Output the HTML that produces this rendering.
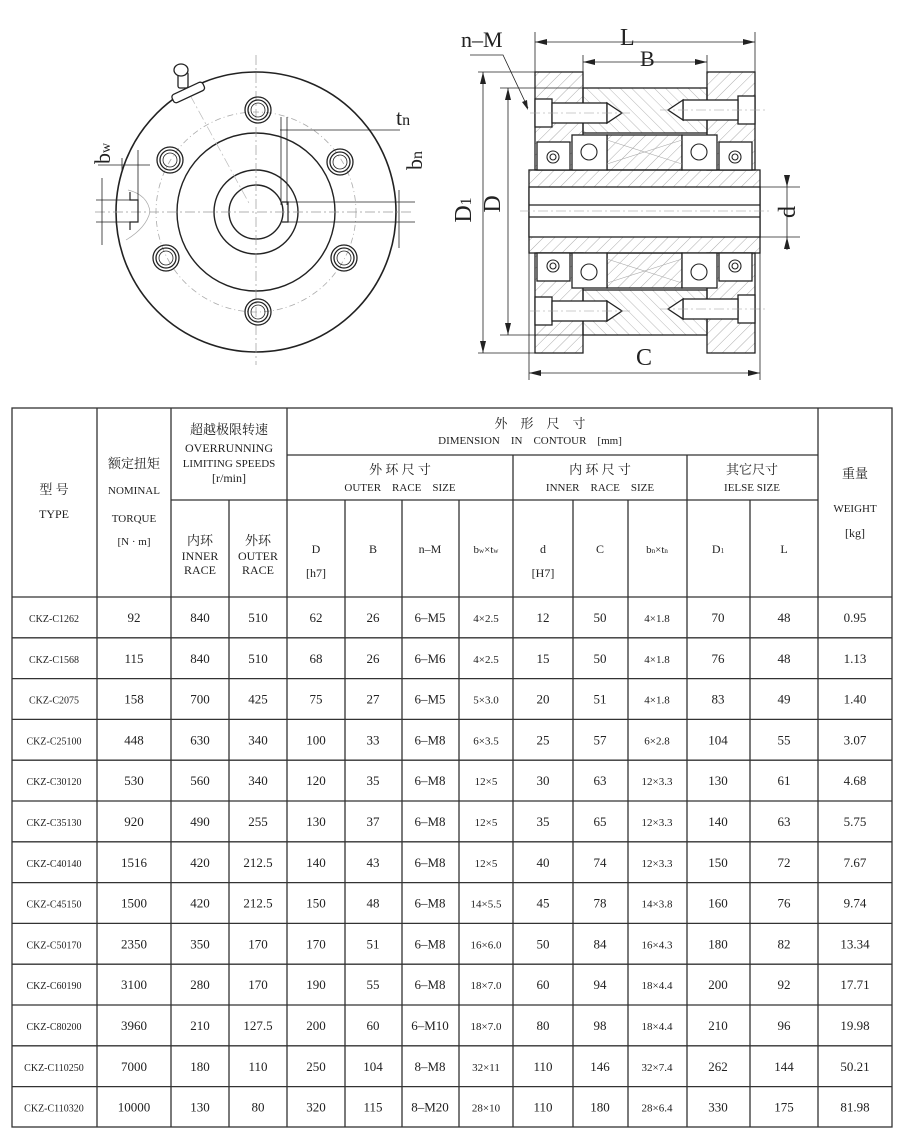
<!DOCTYPE html>
<html><head><meta charset="utf-8"><style>
html,body{margin:0;padding:0;background:#fff;}
svg{display:block;}
text{font-family:"Liberation Serif","Noto Serif CJK SC",serif;fill:#222;}
.c{text-anchor:middle;}
.cj{font-family:"Liberation Serif","Noto Serif CJK SC","Noto Sans CJK SC",serif;}
</style></head><body>
<svg width="900" height="1140" viewBox="0 0 900 1140" xmlns="http://www.w3.org/2000/svg">
<defs>
<pattern id="h" width="8" height="8" patternUnits="userSpaceOnUse" patternTransform="rotate(45)">
<line x1="0" y1="0" x2="0" y2="8" stroke="#888" stroke-width="0.7"/></pattern>
<pattern id="h2" width="8" height="8" patternUnits="userSpaceOnUse" patternTransform="rotate(-45)">
<line x1="0" y1="0" x2="0" y2="8" stroke="#999" stroke-width="0.7"/></pattern>
</defs>

<!-- LEFT VIEW -->
<g stroke="#222" fill="none">
<circle cx="256" cy="212" r="140" stroke-width="1.6"/>
<circle cx="256" cy="212" r="100" stroke="#aaa" stroke-dasharray="6,3,1,3" stroke-width="0.8"/>
<circle cx="256" cy="212" r="79" stroke-width="1.4"/>
<circle cx="256" cy="212" r="42" stroke-width="1.4"/>
<circle cx="256" cy="212" r="27" stroke-width="1.4"/>
<line x1="256" y1="55" x2="256" y2="365" stroke="#999" stroke-width="0.7" stroke-dasharray="10,3,2,3"/>
<line x1="95" y1="212" x2="412" y2="212" stroke="#999" stroke-width="0.7" stroke-dasharray="10,3,2,3"/>
<line x1="190" y1="95" x2="250" y2="205" stroke="#bbb" stroke-width="0.7" stroke-dasharray="10,3,2,3"/>
<g stroke-width="1.3">
<circle cx="258" cy="110" r="13"/><circle cx="258" cy="110" r="10"/><circle cx="258" cy="110" r="7" stroke-width="0.8"/>
<circle cx="340" cy="162" r="13"/><circle cx="340" cy="162" r="10"/><circle cx="340" cy="162" r="7" stroke-width="0.8"/>
<circle cx="344" cy="258" r="13"/><circle cx="344" cy="258" r="10"/><circle cx="344" cy="258" r="7" stroke-width="0.8"/>
<circle cx="258" cy="312" r="13"/><circle cx="258" cy="312" r="10"/><circle cx="258" cy="312" r="7" stroke-width="0.8"/>
<circle cx="166" cy="258" r="13"/><circle cx="166" cy="258" r="10"/><circle cx="166" cy="258" r="7" stroke-width="0.8"/>
<circle cx="170" cy="160" r="13"/><circle cx="170" cy="160" r="10"/><circle cx="170" cy="160" r="7" stroke-width="0.8"/>
</g>
<path d="M282 202 H288 V222 H282" stroke-width="1.2"/>
<!-- grease nipple -->
<g stroke-width="1.3" fill="#fff">
<rect x="171" y="88" width="34" height="9" rx="3" transform="rotate(-25 188 92)"/>
<rect x="178" y="72" width="10" height="16" rx="2"/>
<ellipse cx="181" cy="70" rx="7" ry="6"/>
</g>
<path d="M130 192 V200 H138 V222 H130 V230" stroke-width="1.2"/>
<path d="M128 190 Q148 195 150 212 Q146 228 126 240" stroke="#aaa" stroke-width="0.7"/>
<g stroke-width="0.8">
<line x1="96" y1="200" x2="135" y2="200"/><line x1="96" y1="222" x2="135" y2="222"/>
<line x1="102" y1="178" x2="102" y2="245"/>
<line x1="98" y1="165" x2="150" y2="165"/>
<line x1="122" y1="158" x2="122" y2="170"/><line x1="138" y1="150" x2="138" y2="200"/>
<line x1="280" y1="130" x2="400" y2="130"/>
<line x1="281" y1="117" x2="281" y2="205"/><line x1="287" y1="117" x2="287" y2="205"/>
<line x1="288" y1="202" x2="415" y2="202"/><line x1="288" y1="222" x2="415" y2="222"/>
<line x1="399" y1="190" x2="399" y2="248"/>
</g>
</g>
<text x="88" y="158" font-size="22" transform="rotate(-90 102 150)">b<tspan font-size="14">w</tspan></text>
<text x="396" y="125" font-size="22">t<tspan font-size="16">n</tspan></text>
<text x="400" y="172" font-size="22" transform="rotate(-90 410 160)">b<tspan font-size="16">n</tspan></text>

<!-- RIGHT SECTION VIEW -->
<g stroke="#222" stroke-width="1.3">
<rect x="535" y="72" width="48" height="98" fill="url(#h)"/>
<rect x="707" y="72" width="48" height="98" fill="url(#h)"/>
<rect x="535" y="253" width="48" height="100" fill="url(#h)"/>
<rect x="707" y="253" width="48" height="100" fill="url(#h)"/>
<rect x="583" y="88" width="124" height="45" fill="url(#h2)"/>
<rect x="583" y="290" width="124" height="45" fill="url(#h2)"/>
<rect x="607" y="135" width="75" height="35" fill="url(#h)"/>
<rect x="607" y="253" width="75" height="35" fill="url(#h)"/>
<rect x="529" y="170" width="231" height="83" fill="url(#h)"/>
<rect x="529" y="187" width="231" height="50" fill="#fff"/>
<line x1="529" y1="205" x2="760" y2="205"/><line x1="529" y1="217" x2="760" y2="217"/>
<g fill="#fff">
<rect x="572" y="135" width="35" height="35"/><rect x="682" y="135" width="35" height="35"/>
<rect x="572" y="253" width="35" height="35"/><rect x="682" y="253" width="35" height="35"/>
<rect x="537" y="142" width="33" height="28"/><rect x="719" y="142" width="33" height="28"/>
<rect x="537" y="253" width="33" height="28"/><rect x="719" y="253" width="33" height="28"/>
</g>
<g fill="none" stroke-width="1.1">
<circle cx="589" cy="152" r="8"/><circle cx="699" cy="152" r="8"/>
<circle cx="589" cy="272" r="8"/><circle cx="699" cy="272" r="8"/>
<circle cx="553" cy="157" r="6"/><circle cx="553" cy="157" r="3"/>
<circle cx="735" cy="157" r="6"/><circle cx="735" cy="157" r="3"/>
<circle cx="553" cy="266" r="6"/><circle cx="553" cy="266" r="3"/>
<circle cx="735" cy="266" r="6"/><circle cx="735" cy="266" r="3"/>
<line x1="607" y1="140" x2="682" y2="164" stroke="#aaa" stroke-width="0.6"/>
<line x1="607" y1="164" x2="682" y2="140" stroke="#aaa" stroke-width="0.6"/>
<line x1="607" y1="259" x2="682" y2="283" stroke="#aaa" stroke-width="0.6"/>
<line x1="607" y1="283" x2="682" y2="259" stroke="#aaa" stroke-width="0.6"/>
</g>
<g fill="#fff">
<rect x="535" y="99" width="17" height="28"/><rect x="552" y="103" width="55" height="20"/>
<path d="M607 103 L622 113 L607 123 Z"/>
<rect x="738" y="96" width="17" height="28"/><rect x="683" y="100" width="55" height="20"/>
<path d="M683 100 L668 110 L683 120 Z"/>
<rect x="535" y="297" width="17" height="28"/><rect x="552" y="301" width="55" height="20"/>
<path d="M607 301 L622 311 L607 321 Z"/>
<rect x="738" y="295" width="17" height="28"/><rect x="683" y="299" width="55" height="20"/>
<path d="M683 299 L668 309 L683 319 Z"/>
</g>
</g>
<g stroke="#999" stroke-width="0.6" stroke-dasharray="10,3,2,3">
<line x1="520" y1="211" x2="770" y2="211"/>
<line x1="530" y1="113" x2="630" y2="113"/><line x1="660" y1="110" x2="765" y2="110"/>
<line x1="530" y1="311" x2="630" y2="311"/><line x1="660" y1="309" x2="765" y2="309"/>
</g>
<g stroke="#222" stroke-width="0.8" fill="none">
<line x1="535" y1="32" x2="535" y2="72"/><line x1="755" y1="32" x2="755" y2="72"/>
<line x1="535" y1="42" x2="755" y2="42"/>
<line x1="583" y1="55" x2="583" y2="88"/><line x1="707" y1="55" x2="707" y2="88"/>
<line x1="583" y1="62" x2="707" y2="62"/>
<line x1="478" y1="72" x2="535" y2="72"/><line x1="478" y1="353" x2="535" y2="353"/>
<line x1="483" y1="72" x2="483" y2="353"/>
<line x1="500" y1="88" x2="583" y2="88"/><line x1="500" y1="335" x2="583" y2="335"/>
<line x1="508" y1="88" x2="508" y2="335"/>
<line x1="760" y1="187" x2="800" y2="187"/><line x1="760" y1="237" x2="800" y2="237"/>
<line x1="787" y1="175" x2="787" y2="250"/>
<line x1="529" y1="253" x2="529" y2="380"/><line x1="760" y1="253" x2="760" y2="380"/>
<line x1="529" y1="373" x2="760" y2="373"/>
<path d="M470 55 L503 55 L528 108"/>
</g>
<g fill="#222">
<path d="M535 42 l12 -3 v6z"/><path d="M755 42 l-12 -3 v6z"/>
<path d="M583 62 l12 -3 v6z"/><path d="M707 62 l-12 -3 v6z"/>
<path d="M483 72 l-3 12 h6z"/><path d="M483 353 l-3 -12 h6z"/>
<path d="M508 88 l-3 12 h6z"/><path d="M508 335 l-3 -12 h6z"/>
<path d="M787 187 l-3 -12 h6z"/><path d="M787 237 l-3 12 h6z"/>
<path d="M529 373 l12 -3 v6z"/><path d="M760 373 l-12 -3 v6z"/>
<path d="M528 110 l-6 -8 l5 -2z"/>
</g>
<text x="461" y="47" font-size="22">n–M</text>
<text x="620" y="45" font-size="24">L</text>
<text x="640" y="66" font-size="22">B</text>
<text x="636" y="365" font-size="24">C</text>
<text x="470" y="215" font-size="24" class="c" transform="rotate(-90 468 212)">D<tspan font-size="16">1</tspan></text>
<text x="508" y="212" font-size="24" class="c" transform="rotate(-90 500 212)">D</text>
<text x="795" y="212" font-size="24" class="c" transform="rotate(-90 795 212)">d</text>

<!-- TABLE -->
<g stroke="#333" stroke-width="1.3" fill="none">
<rect x="12" y="408" width="880" height="719"/>
<line x1="97" y1="408" x2="97" y2="1127"/>
<line x1="171" y1="408" x2="171" y2="1127"/>
<line x1="229" y1="500" x2="229" y2="1127"/>
<line x1="287" y1="408" x2="287" y2="1127"/>
<line x1="345" y1="500" x2="345" y2="1127"/>
<line x1="402" y1="500" x2="402" y2="1127"/>
<line x1="459" y1="500" x2="459" y2="1127"/>
<line x1="513" y1="455" x2="513" y2="1127"/>
<line x1="573" y1="500" x2="573" y2="1127"/>
<line x1="628" y1="500" x2="628" y2="1127"/>
<line x1="687" y1="455" x2="687" y2="1127"/>
<line x1="750" y1="500" x2="750" y2="1127"/>
<line x1="818" y1="408" x2="818" y2="1127"/>
<line x1="287" y1="455" x2="818" y2="455"/>
<line x1="171" y1="500" x2="818" y2="500"/>
<line x1="12" y1="597" x2="892" y2="597"/>
<line x1="12" y1="637.8" x2="892" y2="637.8"/>
<line x1="12" y1="678.6" x2="892" y2="678.6"/>
<line x1="12" y1="719.4" x2="892" y2="719.4"/>
<line x1="12" y1="760.2" x2="892" y2="760.2"/>
<line x1="12" y1="801" x2="892" y2="801"/>
<line x1="12" y1="841.8" x2="892" y2="841.8"/>
<line x1="12" y1="882.6" x2="892" y2="882.6"/>
<line x1="12" y1="923.4" x2="892" y2="923.4"/>
<line x1="12" y1="964.2" x2="892" y2="964.2"/>
<line x1="12" y1="1005" x2="892" y2="1005"/>
<line x1="12" y1="1045.8" x2="892" y2="1045.8"/>
<line x1="12" y1="1086.6" x2="892" y2="1086.6"/>
</g>
<g font-size="12" class="c">
<text x="54" y="494" class="c cj" font-size="13">型 号</text>
<text x="54" y="518" class="c">TYPE</text>
<text x="134" y="468" class="c cj" font-size="13">额定扭矩</text>
<text x="134" y="494" class="c" font-size="11">NOMINAL</text>
<text x="134" y="522" class="c" font-size="11">TORQUE</text>
<text x="134" y="545" class="c" font-size="11">[N · m]</text>
<text x="229" y="434" class="c cj" font-size="13">超越极限转速</text>
<text x="229" y="452" class="c" font-size="12">OVERRUNNING</text>
<text x="229" y="467" class="c" font-size="11">LIMITING SPEEDS</text>
<text x="229" y="482" class="c" font-size="12">[r/min]</text>
<text x="200" y="545" class="c cj" font-size="13">内环</text>
<text x="200" y="560" class="c">INNER</text>
<text x="200" y="574" class="c">RACE</text>
<text x="258" y="545" class="c cj" font-size="13">外环</text>
<text x="258" y="560" class="c">OUTER</text>
<text x="258" y="574" class="c">RACE</text>
<text x="540" y="428" class="c cj" font-size="13" xml:space="preserve">外    形    尺    寸</text>
<text x="530" y="444" class="c" font-size="11" xml:space="preserve">DIMENSION    IN    CONTOUR    [mm]</text>
<text x="400" y="474" class="c cj" font-size="13">外 环 尺 寸</text>
<text x="400" y="491" class="c" font-size="11" xml:space="preserve">OUTER    RACE    SIZE</text>
<text x="600" y="474" class="c cj" font-size="13">内 环 尺 寸</text>
<text x="600" y="491" class="c" font-size="11" xml:space="preserve">INNER    RACE    SIZE</text>
<text x="752" y="474" class="c cj" font-size="13">其它尺寸</text>
<text x="752" y="491" class="c" font-size="11">IELSE  SIZE</text>
<text x="855" y="478" class="c cj" font-size="13">重量</text>
<text x="855" y="512" class="c" font-size="11">WEIGHT</text>
<text x="855" y="537" class="c">[kg]</text>
<text x="316" y="553" class="c">D</text><text x="316" y="577" class="c">[h7]</text>
<text x="373" y="553" class="c">B</text>
<text x="430" y="553" class="c">n–M</text>
<text x="486" y="553" class="c" font-size="11">b<tspan font-size="7">w</tspan>×t<tspan font-size="7">w</tspan></text>
<text x="543" y="553" class="c">d</text><text x="543" y="577" class="c">[H7]</text>
<text x="600" y="553" class="c">C</text>
<text x="657" y="553" class="c" font-size="11">b<tspan font-size="7">n</tspan>×t<tspan font-size="7">n</tspan></text>
<text x="718" y="553" class="c">D<tspan font-size="7">1</tspan></text>
<text x="784" y="553" class="c">L</text>
</g>

<g font-size="13">
<g transform="translate(0,622)">
<text x="54" class="c" font-size="10">CKZ-C1262</text><text x="134" class="c">92</text><text x="200" class="c">840</text><text x="258" class="c">510</text><text x="316" class="c">62</text><text x="373" class="c">26</text><text x="430" class="c">6–M5</text><text x="486" class="c" font-size="11">4×2.5</text><text x="543" class="c">12</text><text x="600" class="c">50</text><text x="657" class="c" font-size="11">4×1.8</text><text x="718" class="c">70</text><text x="784" class="c">48</text><text x="855" class="c">0.95</text></g>
<g transform="translate(0,662.8)">
<text x="54" class="c" font-size="10">CKZ-C1568</text><text x="134" class="c">115</text><text x="200" class="c">840</text><text x="258" class="c">510</text><text x="316" class="c">68</text><text x="373" class="c">26</text><text x="430" class="c">6–M6</text><text x="486" class="c" font-size="11">4×2.5</text><text x="543" class="c">15</text><text x="600" class="c">50</text><text x="657" class="c" font-size="11">4×1.8</text><text x="718" class="c">76</text><text x="784" class="c">48</text><text x="855" class="c">1.13</text></g>
<g transform="translate(0,703.6)">
<text x="54" class="c" font-size="10">CKZ-C2075</text><text x="134" class="c">158</text><text x="200" class="c">700</text><text x="258" class="c">425</text><text x="316" class="c">75</text><text x="373" class="c">27</text><text x="430" class="c">6–M5</text><text x="486" class="c" font-size="11">5×3.0</text><text x="543" class="c">20</text><text x="600" class="c">51</text><text x="657" class="c" font-size="11">4×1.8</text><text x="718" class="c">83</text><text x="784" class="c">49</text><text x="855" class="c">1.40</text></g>
<g transform="translate(0,744.4)">
<text x="54" class="c" font-size="10">CKZ-C25100</text><text x="134" class="c">448</text><text x="200" class="c">630</text><text x="258" class="c">340</text><text x="316" class="c">100</text><text x="373" class="c">33</text><text x="430" class="c">6–M8</text><text x="486" class="c" font-size="11">6×3.5</text><text x="543" class="c">25</text><text x="600" class="c">57</text><text x="657" class="c" font-size="11">6×2.8</text><text x="718" class="c">104</text><text x="784" class="c">55</text><text x="855" class="c">3.07</text></g>
<g transform="translate(0,785.2)">
<text x="54" class="c" font-size="10">CKZ-C30120</text><text x="134" class="c">530</text><text x="200" class="c">560</text><text x="258" class="c">340</text><text x="316" class="c">120</text><text x="373" class="c">35</text><text x="430" class="c">6–M8</text><text x="486" class="c" font-size="11">12×5</text><text x="543" class="c">30</text><text x="600" class="c">63</text><text x="657" class="c" font-size="11">12×3.3</text><text x="718" class="c">130</text><text x="784" class="c">61</text><text x="855" class="c">4.68</text></g>
<g transform="translate(0,826)">
<text x="54" class="c" font-size="10">CKZ-C35130</text><text x="134" class="c">920</text><text x="200" class="c">490</text><text x="258" class="c">255</text><text x="316" class="c">130</text><text x="373" class="c">37</text><text x="430" class="c">6–M8</text><text x="486" class="c" font-size="11">12×5</text><text x="543" class="c">35</text><text x="600" class="c">65</text><text x="657" class="c" font-size="11">12×3.3</text><text x="718" class="c">140</text><text x="784" class="c">63</text><text x="855" class="c">5.75</text></g>
<g transform="translate(0,866.8)">
<text x="54" class="c" font-size="10">CKZ-C40140</text><text x="134" class="c">1516</text><text x="200" class="c">420</text><text x="258" class="c">212.5</text><text x="316" class="c">140</text><text x="373" class="c">43</text><text x="430" class="c">6–M8</text><text x="486" class="c" font-size="11">12×5</text><text x="543" class="c">40</text><text x="600" class="c">74</text><text x="657" class="c" font-size="11">12×3.3</text><text x="718" class="c">150</text><text x="784" class="c">72</text><text x="855" class="c">7.67</text></g>
<g transform="translate(0,907.6)">
<text x="54" class="c" font-size="10">CKZ-C45150</text><text x="134" class="c">1500</text><text x="200" class="c">420</text><text x="258" class="c">212.5</text><text x="316" class="c">150</text><text x="373" class="c">48</text><text x="430" class="c">6–M8</text><text x="486" class="c" font-size="11">14×5.5</text><text x="543" class="c">45</text><text x="600" class="c">78</text><text x="657" class="c" font-size="11">14×3.8</text><text x="718" class="c">160</text><text x="784" class="c">76</text><text x="855" class="c">9.74</text></g>
<g transform="translate(0,948.4)">
<text x="54" class="c" font-size="10">CKZ-C50170</text><text x="134" class="c">2350</text><text x="200" class="c">350</text><text x="258" class="c">170</text><text x="316" class="c">170</text><text x="373" class="c">51</text><text x="430" class="c">6–M8</text><text x="486" class="c" font-size="11">16×6.0</text><text x="543" class="c">50</text><text x="600" class="c">84</text><text x="657" class="c" font-size="11">16×4.3</text><text x="718" class="c">180</text><text x="784" class="c">82</text><text x="855" class="c">13.34</text></g>
<g transform="translate(0,989.2)">
<text x="54" class="c" font-size="10">CKZ-C60190</text><text x="134" class="c">3100</text><text x="200" class="c">280</text><text x="258" class="c">170</text><text x="316" class="c">190</text><text x="373" class="c">55</text><text x="430" class="c">6–M8</text><text x="486" class="c" font-size="11">18×7.0</text><text x="543" class="c">60</text><text x="600" class="c">94</text><text x="657" class="c" font-size="11">18×4.4</text><text x="718" class="c">200</text><text x="784" class="c">92</text><text x="855" class="c">17.71</text></g>
<g transform="translate(0,1030)">
<text x="54" class="c" font-size="10">CKZ-C80200</text><text x="134" class="c">3960</text><text x="200" class="c">210</text><text x="258" class="c">127.5</text><text x="316" class="c">200</text><text x="373" class="c">60</text><text x="430" class="c">6–M10</text><text x="486" class="c" font-size="11">18×7.0</text><text x="543" class="c">80</text><text x="600" class="c">98</text><text x="657" class="c" font-size="11">18×4.4</text><text x="718" class="c">210</text><text x="784" class="c">96</text><text x="855" class="c">19.98</text></g>
<g transform="translate(0,1070.8)">
<text x="54" class="c" font-size="10">CKZ-C110250</text><text x="134" class="c">7000</text><text x="200" class="c">180</text><text x="258" class="c">110</text><text x="316" class="c">250</text><text x="373" class="c">104</text><text x="430" class="c">8–M8</text><text x="486" class="c" font-size="11">32×11</text><text x="543" class="c">110</text><text x="600" class="c">146</text><text x="657" class="c" font-size="11">32×7.4</text><text x="718" class="c">262</text><text x="784" class="c">144</text><text x="855" class="c">50.21</text></g>
<g transform="translate(0,1111.6)">
<text x="54" class="c" font-size="10">CKZ-C110320</text><text x="134" class="c">10000</text><text x="200" class="c">130</text><text x="258" class="c">80</text><text x="316" class="c">320</text><text x="373" class="c">115</text><text x="430" class="c">8–M20</text><text x="486" class="c" font-size="11">28×10</text><text x="543" class="c">110</text><text x="600" class="c">180</text><text x="657" class="c" font-size="11">28×6.4</text><text x="718" class="c">330</text><text x="784" class="c">175</text><text x="855" class="c">81.98</text></g>
</g>
</svg>
</body></html>
